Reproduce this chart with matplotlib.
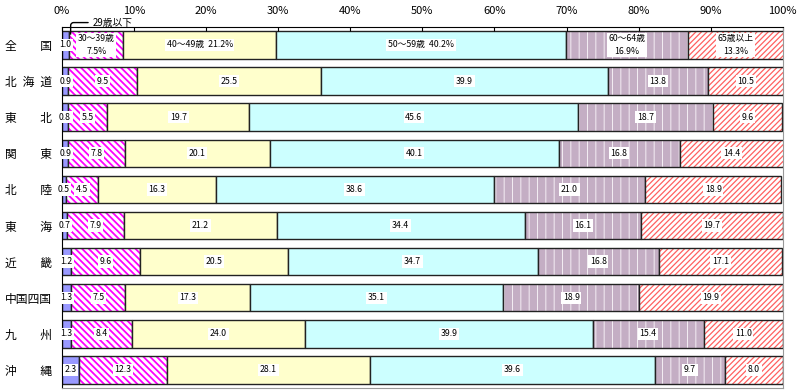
import numpy as np
import matplotlib
matplotlib.use("Agg")
import matplotlib.pyplot as plt

plt.rcParams['font.family'] = ['Noto Sans CJK JP', 'DejaVu Sans']
plt.rcParams['hatch.linewidth'] = 1.1

# regions (top to bottom)
regions = ['全　　国', '北\u2002海\u2002道', '東　　北', '関　　東', '北　　陸',
           '東　　海', '近　　畿', '中国四国', '九　　州', '沖　　縄']
age_groups = ['29歳以下', '30～39歳', '40～49歳', '50～59歳', '60～64歳', '65歳以上']

age29 = [1.0, 0.9, 0.8, 0.9, 0.5, 0.7, 1.2, 1.3, 1.3, 2.3]
age30 = [7.5, 9.5, 5.5, 7.8, 4.5, 7.9, 9.6, 7.5, 8.4, 12.3]
age40 = [21.2, 25.5, 19.7, 20.1, 16.3, 21.2, 20.5, 17.3, 24.0, 28.1]
age50 = [40.2, 39.9, 45.6, 40.1, 38.6, 34.4, 34.7, 35.1, 39.9, 39.6]
age60 = [16.9, 13.8, 18.7, 16.8, 21.0, 16.1, 16.8, 18.9, 15.4, 9.7]
age65 = [13.3, 10.5, 9.6, 14.4, 18.9, 19.7, 17.1, 19.9, 11.0, 8.0]

series = [age29, age30, age40, age50, age60, age65]
faces = ['#9999ff', 'white', '#ffffcc', '#ccffff', '#c4aec4', 'white']
hatches = [None, '\\\\\\\\\\', None, None, '||', '//////']
hatch_cols = [None, '#ff00ff', None, None, '#f4eef4', '#ff6060']
hatch_lw = [None, 1.3, None, None, 0.7, 0.9]

fig = plt.figure(figsize=(8, 3.9), dpi=100)
ax = fig.add_axes([0.0775, 0.005, 0.901, 0.926])

y = np.arange(len(regions))
h = 0.76
left = np.zeros(len(regions))
for i, vals in enumerate(series):
    vals = np.array(vals)
    if hatches[i]:
        with plt.rc_context({'hatch.linewidth': hatch_lw[i]}):
            bars = ax.barh(y, vals, left=left, height=h, color=faces[i], hatch=hatches[i],
                           edgecolor=hatch_cols[i], linewidth=0)
            for b in bars:
                if hasattr(b, 'set_hatch_linewidth'):
                    b.set_hatch_linewidth(hatch_lw[i])
    else:
        ax.barh(y, vals, left=left, height=h, color=faces[i], linewidth=0)
    ax.barh(y, vals, left=left, height=h, fill=False, edgecolor='#222222', linewidth=1)
    for j, v in enumerate(vals):
        cx = left[j] + v / 2
        if j == 0:
            if i == 0:
                txt = f"{v:.1f}"
            elif i in (1, 4, 5):
                txt = f"{age_groups[i]}\n{v:.1f}%"
            else:
                txt = f"{age_groups[i]}  {v:.1f}%"
        else:
            txt = f"{v:.1f}"
        ax.text(cx, y[j], txt, ha='center', va='center', fontsize=6.3,
                linespacing=1.5,
                bbox=dict(facecolor='white', edgecolor='none', pad=1.2))
    left = left + vals

ax.annotate('29歳以下', xy=(1.2, -0.3), xytext=(4.2, -0.62),
            fontsize=7, ha='left', va='center', annotation_clip=False,
            arrowprops=dict(arrowstyle='-', lw=1, color='black',
                            connectionstyle='angle,angleA=0,angleB=90,rad=3',
                            shrinkA=1, shrinkB=0))

ax.set_xlim(0, 100)
ax.set_ylim(9.5, -0.5)
ax.set_yticks(y)
ax.set_yticklabels(regions, fontsize=8.5)
ax.set_xticks(np.arange(0, 101, 10))
ax.set_xticklabels([f"{t}%" for t in range(0, 101, 10)], fontsize=8)
ax.xaxis.tick_top()
ax.tick_params(axis='x', direction='in', length=3, pad=8)
ax.tick_params(axis='y', length=0, pad=7)
ax.spines['left'].set_color('black')
ax.spines['top'].set_color('black')
ax.spines['right'].set_color('#999999')
ax.spines['bottom'].set_color('#999999')

fig.savefig('out.png', dpi=100)
